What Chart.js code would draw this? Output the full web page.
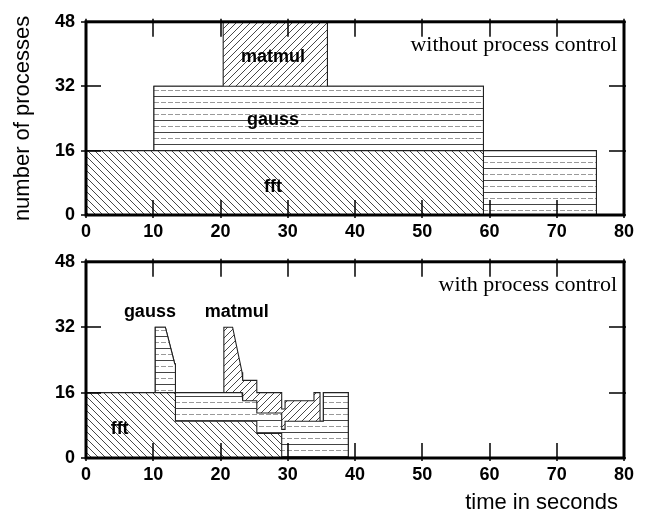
<!DOCTYPE html>
<html><head><meta charset="utf-8">
<script src="https://cdn.jsdelivr.net/npm/chart.js@4/dist/chart.umd.min.js"></script>
<style>
html,body{margin:0;padding:0;background:#fff;}
#wrap{position:relative;width:646px;height:513px;overflow:hidden;}
#c1{position:absolute;left:0;top:0;}
#c2{position:absolute;left:0;top:240px;}
</style></head><body>
<div id="wrap"><canvas id="c1" width="646" height="240"></canvas><canvas id="c2" width="646" height="273"></canvas></div>
<script>
// ---- data ----
const xTicks = [0,10,20,30,40,50,60,70,80];
const yTicks = [0,16,32,48];
const processNames = ['fft','gauss','matmul'];
const panelTitles = ['without process control','with process control'];
const xTitle = 'time in seconds';
const yTitle = 'number of processes';

// panel 1: without process control (time in s, processes per program)
const time1   = [0,10.1,10.1,20.4,20.4,35.9,35.9,59.1,59.1,75.9,75.9];
const fft1    = [16,16,16,16,16,16,16,16,0,0,0];
const gauss1  = [0,0,16,16,16,16,16,16,16,16,0];
const matmul1 = [0,0,0,0,16,16,0,0,0,0,0];

// panel 2: with process control
const time2   = [0,10.3,10.3,11.8,13.2,13.3,13.3,20.5,20.5,21.8,23.2,23.3,25.4,25.4,29.1,29.1,29.6,29.6,33.9,33.9,34.8,34.8,35.3,35.3,39.0,39.0];
const fft2    = [16,16,16,16,16,16,9,9,9,9,9,9,9,6,6,0,0,0,0,0,0,0,0,0,0,0];
const gauss2  = [0,0,16,16,7,7,7,7,7,7,7,5,5,5,5,7,7,9,9,9,9,9,9,16,16,0];
const matmul2 = [0,0,0,0,0,0,0,0,16,16,5,5,5,5,5,5,5,5,5,7,7,0,0,0,0,0];

// label anchors (data coordinates)
const labelPos1 = {matmul:[27.8,38.0], gauss:[27.8,22.3], fft:[27.8,5.6]};
const labelPos2 = {gauss:[9.5,34.6], matmul:[22.4,34.4], fft:[5.0,5.8]};

// ---- patterns ----
function makePattern(kind){
  const c = document.createElement('canvas');
  let w=7,h=7;
  if(kind==='h'){w=14;h=12;}
  c.width=w;c.height=h;
  const g=c.getContext('2d');
  g.fillStyle='#fff';g.fillRect(0,0,w,h);
  g.strokeStyle='#333';g.lineWidth=0.9;
  if(kind==='b'){ // "\"
    g.beginPath();
    g.moveTo(0,0);g.lineTo(w,h);
    g.moveTo(-1,h-1);g.lineTo(1,h+1);
    g.moveTo(w-1,-1);g.lineTo(w+1,1);
    g.stroke();
  } else if(kind==='f'){ // "/"
    g.beginPath();
    g.moveTo(0,h);g.lineTo(w,0);
    g.moveTo(-1,1);g.lineTo(1,-1);
    g.moveTo(w-1,h+1);g.lineTo(w+1,h-1);
    g.stroke();
  } else { // horizontal lines
    g.lineWidth=1;
    g.strokeStyle='#444';
    g.beginPath();g.moveTo(0,0.5);g.lineTo(w,0.5);g.stroke();
    g.strokeStyle='#999';
    g.setLineDash([5,2]);
    g.beginPath();g.moveTo(0,6.5);g.lineTo(w,6.5);g.stroke();
  }
  return g.createPattern(c,'repeat');
}
const pats = {fft:makePattern('b'), gauss:makePattern('h'), matmul:makePattern('f')};

Chart.defaults.font.family = '"Liberation Sans", Arial, sans-serif';
Chart.defaults.color = '#000';

function buildDatasets(time, series){
  const cum = time.map(()=>0);
  return series.map((vals,k)=>{
    const data = time.map((t,i)=>{cum[i]+=vals[i];return {x:t,y:cum[i]};});
    return {
      label: processNames[k], data,
      fill:'origin', backgroundColor: pats[processNames[k]],
      borderColor:'#222', borderWidth:1.1, pointRadius:0, tension:0
    };
  });
}

const framePlugin = {
  id:'frame',
  afterDraw(chart, args, opts){
    const {ctx, chartArea:a, scales:{x,y}} = chart;
    ctx.save();
    // in-plot labels
    ctx.font = 'bold 18px "Liberation Sans", Arial, sans-serif';
    ctx.fillStyle='#000';ctx.textAlign='center';ctx.textBaseline='alphabetic';
    Object.entries(opts.labels).forEach(([name,[lx,ly]])=>{
      ctx.fillText(name, x.getPixelForValue(lx), y.getPixelForValue(ly));
    });
    // panel title
    ctx.font = '22px "Liberation Serif", "Times New Roman", serif';
    ctx.textAlign='right';
    ctx.fillText(opts.title, a.right-7, a.top+29);
    if(opts.xTitle){
      ctx.font = '22px "Liberation Sans", Arial, sans-serif';
      ctx.fillText(opts.xTitle, a.right-6, chart.height-4);
    }
    // ticks
    ctx.strokeStyle='#000';ctx.lineWidth=1.5;
    ctx.beginPath();
    xTicks.forEach(v=>{const p=Math.round(x.getPixelForValue(v));
      ctx.moveTo(p,a.bottom+3);ctx.lineTo(p,a.bottom-15);
      ctx.moveTo(p,a.top-3);ctx.lineTo(p,a.top+15);});
    yTicks.forEach(v=>{const p=Math.round(y.getPixelForValue(v));
      ctx.moveTo(a.left-5,p);ctx.lineTo(a.left+15,p);
      ctx.moveTo(a.right-15,p);ctx.lineTo(a.right+2,p);});
    ctx.stroke();
    // frame
    ctx.lineWidth=3;
    ctx.strokeRect(a.left,a.top,a.right-a.left,a.bottom-a.top);
    ctx.restore();
  }
};

function makeChart(id, time, series, padTop, xHeight, opts, showYTitle){
  return new Chart(document.getElementById(id), {
    type:'line',
    data:{datasets: buildDatasets(time, series)},
    options:{
      responsive:false, animation:false, devicePixelRatio:1,
      layout:{padding:{left:0,right:22,top:padTop,bottom:0}},
      plugins:{legend:{display:false}, tooltip:{enabled:false}, frame:opts},
      scales:{
        x:{type:'linear', min:0, max:80,
           ticks:{stepSize:10, autoSkip:false, padding:6, font:{size:18, weight:'bold'}, color:'#000'},
           grid:{display:false, drawTicks:false}, border:{display:false},
           afterFit:(s)=>{s.height=xHeight;}},
        y:{type:'linear', min:0, max:48,
           ticks:{stepSize:16, autoSkip:false, padding:11, font:{size:18, weight:'bold'}, color:'#000'},
           grid:{display:false, drawTicks:false}, border:{display:false},
           title:{display:showYTitle, text:yTitle, font:{size:22}, padding:{top:10,bottom:0}, color:'#000'},
           afterFit:(s)=>{s.width=86;}}
      }
    },
    plugins:[framePlugin]
  });
}

makeChart('c1', time1, [fft1,gauss1,matmul1], 15, 25, {labels:labelPos1, title:panelTitles[0]}, true);
makeChart('c2', time2, [fft2,gauss2,matmul2], 17, 55, {labels:labelPos2, title:panelTitles[1], xTitle:xTitle}, false);
</script>
</body></html>
